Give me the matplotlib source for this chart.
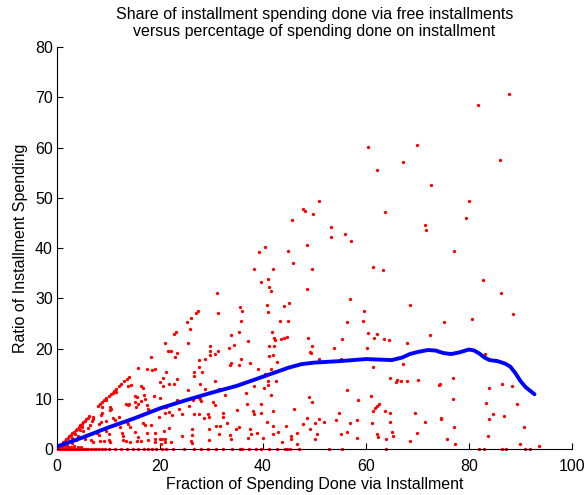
import numpy as np
import matplotlib
matplotlib.use('Agg')
import matplotlib.pyplot as plt

plt.rcParams['font.family'] = ['Liberation Sans', 'DejaVu Sans']

# (fraction of spending via installment, ratio of installment spending)
points = [
    (87.7, 70.6), (81.7, 68.4), (60.4, 60.2), (69.8, 60.5), (67.2, 57.1), (86.1, 57.6), (62.1, 55.6),
    (72.7, 52.5), (50.8, 49.4), (47.8, 47.8), (48.2, 47.4), (49.7, 46.7), (45.6, 45.6), (63.6, 47.1),
    (79.9, 49.4), (79.4, 46.0), (53.2, 44.2), (53.1, 42.1), (56.0, 42.8), (57.0, 41.4), (48.6, 40.6),
    (71.5, 44.5), (71.7, 43.6), (77.0, 39.5), (45.9, 37.0), (49.5, 35.8), (61.4, 36.2), (63.3, 35.7),
    (40.3, 40.3), (39.2, 39.2), (44.9, 39.5), (38.3, 35.8), (41.9, 35.9),
    # middle band
    (39.6, 33.3), (40.9, 33.8), (41.2, 32.3), (41.6, 31.4), (48.6, 31.9), (56.8, 29.8), (68.5, 28.7),
    (40.7, 28.7), (45.0, 29.1), (44.1, 28.5), (35.9, 27.5), (35.5, 28.2), (40.9, 27.3), (59.6, 27.5),
    (35.7, 25.4), (43.2, 25.5), (44.9, 25.5), (56.4, 25.3), (59.4, 25.4), (33.8, 22.7), (35.3, 23.3),
    (41.8, 23.3), (60.3, 23.1), (62.1, 22.9), (42.1, 22.0), (42.3, 21.7), (43.4, 21.9), (44.0, 22.1),
    (44.6, 22.3), (48.8, 22.1), (61.6, 22.1), (63.4, 21.8), (64.5, 21.6), (55.3, 21.8), (37.0, 21.4),
    (34.4, 20.7), (41.2, 20.5), (42.1, 20.6), (49.5, 20.5), (49.1, 19.4), (49.4, 19.2), (53.8, 20.2),
    (60.2, 20.2), (68.0, 21.0), (33.8, 17.1), (35.4, 16.7), (35.8, 18.0), (37.4, 17.1), (41.2, 18.5),
    (41.9, 18.8), (41.5, 16.0), (42.8, 17.3), (50.9, 18.0), (55.2, 18.0), (61.4, 16.4), (67.2, 16.9),
    (39.0, 15.9), (40.3, 14.9), (42.5, 13.6), (38.3, 12.5), (40.2, 12.1), (40.9, 13.5), (41.0, 12.8),
    (36.6, 11.1), (41.5, 10.7), (64.7, 14.1), (65.9, 13.3), (66.1, 13.7), (66.8, 13.5), (68.0, 13.6),
    (70.0, 13.8), (36.8, 9.0), (39.6, 9.0), (48.9, 10.4), (49.5, 9.4), (56.4, 11.7), (58.4, 9.8),
    (61.0, 10.6), (62.5, 9.0), (62.1, 8.5), (61.8, 8.2), (35.0, 7.7), (38.0, 7.5), (38.3, 7.0),
    (39.6, 7.2), (41.9, 7.5), (46.0, 8.0), (54.8, 7.2), (61.4, 7.6), (63.6, 7.5), (64.7, 7.2),
    (69.6, 7.2), (48.5, 6.1), (50.8, 6.0), (54.1, 5.7), (58.3, 5.8), (47.8, 5.0), (50.1, 5.2),
    (51.9, 5.4), (56.8, 5.1), (61.1, 5.2), (64.7, 5.4), (71.5, 5.4), (34.8, 4.0), (35.3, 4.4),
    (40.8, 5.3), (42.0, 4.6), (44.5, 4.6), (49.1, 4.0), (37.7, 2.9), (38.8, 3.1), (41.9, 3.0),
    (42.9, 3.4), (45.5, 2.5), (46.5, 3.2), (50.5, 2.9), (50.0, 2.0), (55.1, 2.9), (56.4, 3.4),
    (62.1, 3.0), (62.3, 2.4), (65.1, 3.4), (65.2, 2.6), (69.8, 3.2), (68.5, 1.6), (33.7, 2.0),
    (37.0, 2.2), (39.9, 2.2), (43.6, 1.3), (45.5, 1.9), (46.5, 0.9), (58.3, 2.2), (63.8, 2.0),
    (37.5, 4.0),
    # right side
    (82.8, 33.6), (86.3, 31.1), (88.6, 26.8), (75.1, 25.2), (80.5, 25.9), (72.5, 22.7), (83.1, 18.9),
    (74.1, 12.7), (74.4, 13.0), (76.8, 14.1), (83.9, 12.1), (86.4, 12.9), (88.3, 12.6), (76.8, 10.0),
    (83.2, 9.2), (89.4, 9.0), (84.6, 7.0), (86.8, 6.6), (74.6, 6.2), (74.6, 5.9), (83.9, 5.9),
    (77.1, 4.4), (90.6, 4.3), (83.7, 2.6), (75.8, 2.0), (77.3, 0.9), (89.8, 0.9), (93.5, 0.6),
    # 18-34 range
    (31.0, 31.1), (27.4, 27.5), (26.9, 27.0), (31.2, 27.0), (26.0, 26.1), (25.2, 25.3), (25.8, 23.9),
    (23.1, 23.2), (22.7, 22.9), (20.9, 21.0), (25.4, 21.1), (29.7, 20.5), (29.8, 19.6), (31.3, 19.6),
    (21.5, 19.6), (22.1, 19.6), (23.2, 19.2), (23.0, 18.4), (33.4, 20.1), (30.7, 19.0), (29.7, 18.8),
    (28.8, 18.0), (27.5, 17.8), (18.2, 18.4), (33.5, 16.8), (27.6, 16.4), (18.4, 15.8), (19.1, 15.9),
    (21.2, 15.4), (26.5, 15.4), (26.5, 14.6), (28.2, 15.3), (20.5, 14.1), (23.2, 13.9), (30.6, 13.5),
    (20.0, 13.3), (20.6, 12.5), (22.8, 12.9), (21.8, 12.9), (27.7, 12.9), (25.5, 11.7), (28.8, 11.9),
    (31.5, 11.9), (32.7, 10.7), (18.9, 10.6), (19.9, 10.2), (27.3, 10.4), (27.8, 9.95), (28.0, 9.6),
    (26.4, 9.75), (23.2, 9.7), (30.3, 9.3), (30.7, 8.8), (20.6, 8.4), (21.2, 8.4), (23.7, 8.0),
    (25.7, 8.5), (21.8, 7.4), (22.3, 6.8), (21.0, 7.1), (24.3, 7.0), (26.6, 6.9), (27.6, 7.0),
    (29.3, 7.0), (29.6, 6.4), (32.2, 7.2), (32.2, 6.4), (19.8, 6.4), (28.6, 6.1), (33.0, 5.1),
    (21.7, 4.1), (26.2, 4.0), (29.6, 3.9), (31.7, 4.6), (30.9, 4.5), (19.0, 3.2), (20.8, 3.6),
    (26.3, 2.8), (24.3, 2.6), (31.5, 3.0), (33.5, 2.7), (19.0, 1.9), (20.0, 1.9), (20.4, 1.9),
    (21.0, 1.9), (21.0, 1.4), (22.1, 1.4), (26.0, 1.5), (26.3, 1.1), (29.6, 1.7), (19.0, 1.3),
    (20.2, 1.0), (18.3, 7.6), (18.0, 7.6), (18.3, 4.7),
    # below 18
    (15.8, 16.1), (17.5, 16.0), (13.7, 12.6), (14.4, 12.7), (16.3, 12.5), (16.6, 12.1), (10.9, 11.2),
    (11.4, 11.3), (9.5, 9.75), (15.2, 10.5), (15.6, 10.4), (16.9, 10.7), (15.1, 9.4), (16.3, 9.6),
    (17.1, 9.9), (13.7, 8.8), (13.4, 8.9), (13.9, 8.95), (8.7, 8.4), (10.2, 8.4), (10.5, 7.96),
    (10.3, 7.8), (15.3, 8.3), (15.7, 8.9), (17.4, 8.8), (17.7, 8.0), (7.0, 6.4), (6.7, 5.6),
    (6.9, 5.9), (8.7, 7.1), (8.5, 6.8), (8.5, 5.4), (8.2, 5.0), (9.5, 5.5), (10.9, 6.2), (11.3, 5.8),
    (12.1, 6.4), (12.2, 4.4), (13.5, 5.4), (13.7, 4.9), (14.2, 4.4), (16.7, 5.2), (17.1, 4.8),
    (6.4, 4.7), (6.0, 4.1), (4.5, 3.8), (4.8, 4.4), (5.1, 3.6), (7.7, 3.2), (8.2, 2.8), (9.5, 3.6),
    (10.0, 3.0), (12.6, 3.2), (12.8, 2.6), (15.1, 3.4), (15.7, 2.3), (17.5, 3.1), (2.9, 2.1),
    (3.7, 1.8), (5.4, 1.9), (6.6, 1.8), (7.0, 1.3), (8.3, 1.6), (9.1, 1.6), (10.0, 1.8), (10.3, 1.4),
    (12.9, 1.8), (13.3, 1.5), (14.2, 1.3), (15.6, 1.5), (16.3, 1.6), (17.7, 1.8), (1.5, 1.0),
    (2.0, 0.8), (3.0, 1.2), (4.0, 2.6), (5.6, 2.8), (3.4, 2.9),
    # near-zero row
    (0.4, 0.5), (0.9, 0.4), (1.5, 0.6), (2.1, 0.5), (2.7, 0.4), (3.3, 0.6), (4.0, 0.5), (4.6, 0.4),
]

# points where the whole installment share was free (ratio equals fraction)
diag_x = [0.3, 0.6, 0.9, 1.2, 1.5, 1.8, 2.1, 2.4, 2.7, 3.0, 3.3, 3.6, 3.9, 4.2, 4.5, 4.8, 5.1,
          5.4, 5.7, 6.0, 6.3, 8.0, 8.4, 8.8, 9.2, 9.6, 10.0, 10.5, 11.0, 11.5, 12.0, 12.5, 13.0,
          13.5, 14.0]
diag_y = [0.3, 0.6, 1.0, 1.3, 1.6, 1.9, 2.2, 2.5, 2.8, 3.1, 3.4, 3.7, 4.0, 4.3, 4.7, 5.0, 5.3,
          5.6, 5.9, 6.2, 6.5, 8.6, 9.0, 9.4, 9.8, 10.2, 10.6, 11.0, 11.5, 12.0, 12.5, 13.0, 13.5,
          14.0, 14.4]

# zero ratio (no free installments)
zero_x = [0.2, 0.5, 0.8, 1.1, 1.4, 1.7, 2.0, 2.3, 2.6, 2.9, 3.2, 3.5, 3.8, 4.1, 4.5, 4.9, 5.3,
          5.7, 6.1, 6.6, 7.1, 7.6, 8.2, 8.8, 9.4, 10.0, 11.3, 12.5, 13.6, 14.8, 15.8, 16.9, 17.7,
          18.4, 19.3, 20.4, 21.1, 22.6, 24.7, 26.6, 28.0, 29.3, 30.8, 32.3, 33.9, 35.5, 35.9,
          37.3, 38.6, 39.7, 41.2, 42.8, 44.3, 44.7, 45.2, 46.9, 52.9, 55.3, 63.8, 82.0, 82.9,
          86.4, 87.2, 90.8, 91.8]

# smoothed trend
trend_x = [0, 5, 10, 15, 20, 25, 30, 35, 40, 45, 47.5, 50, 55, 60, 62.5, 65, 67, 68.5, 70, 72,
           73.5, 75, 76.5, 78, 80, 81, 82, 83, 84, 85.5, 87, 88, 89, 90, 91, 92.7]
trend_y = [0.5, 2.3, 4.3, 6.1, 8.1, 9.7, 11.2, 12.6, 14.4, 16.2, 16.9, 17.2, 17.5, 17.9, 17.8,
           17.7, 18.2, 18.9, 19.3, 19.7, 19.6, 19.1, 18.9, 19.2, 19.8, 19.6, 19.0, 18.2, 17.7,
           17.5, 17.0, 16.4, 15.1, 13.5, 12.3, 10.9]

px = [p[0] for p in points] + diag_x + zero_x
py = [p[1] for p in points] + diag_y + [0.0] * len(zero_x)

fig = plt.figure(figsize=(5.86, 4.95), dpi=100)
ax = fig.add_axes([0.0973, 0.0929, 0.8789, 0.8121])

ax.plot(px, py, 'o', color='red', ms=2.4, mew=0, clip_on=False, zorder=2)
ax.plot(trend_x, trend_y, '-', color='blue', lw=2.8, solid_joinstyle='round',
        solid_capstyle='round', zorder=3)

ax.set_xlim(0, 100)
ax.set_ylim(0, 80)
ax.set_xticks(np.arange(0, 101, 20))
ax.set_yticks(np.arange(0, 81, 10))
ax.spines['top'].set_visible(False)
ax.spines['right'].set_visible(False)
ax.tick_params(direction='in', length=4, width=0.8, labelsize=11.5)
ax.tick_params(axis='x', pad=7)
ax.tick_params(axis='y', pad=3)

ax.set_xlabel('Fraction of Spending Done via Installment', fontsize=11.5, labelpad=2)
ax.set_ylabel('Ratio of Installment Spending', fontsize=11.5, labelpad=5)
ax.set_title('Share of installment spending done via free installments\n'
             'versus percentage of spending done on installment', fontsize=11.5, pad=8,
             linespacing=1.2)

fig.savefig('out.png', dpi=100)
